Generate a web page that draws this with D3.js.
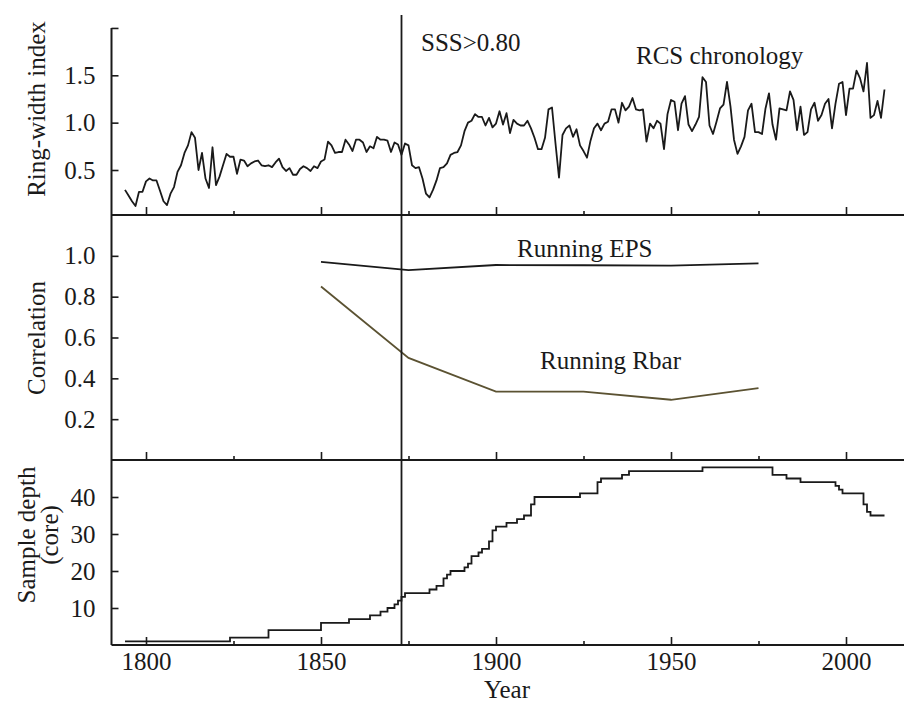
<!DOCTYPE html>
<html>
<head>
<meta charset="utf-8">
<script src="https://cdn.jsdelivr.net/npm/d3@7"></script>
<style>
  html, body { margin: 0; padding: 0; background: #fff; }
  svg text { font-family: "Liberation Serif", "Times New Roman", serif; fill: #1a1a1a; }
</style>
</head>
<body>
<svg id="chart" width="904" height="703" font-family="Liberation Serif, Times New Roman, serif"></svg>
<script>
// ---- data -------------------------------------------------------------
const chronStartYear = 1794;
// RCS ring-width index, one value per year from 1794 to 2011
const chronValues = [
  0.29, 0.23, 0.17, 0.12, 0.27, 0.27,
  0.38, 0.41, 0.39, 0.39, 0.28, 0.17, 0.13, 0.25, 0.32, 0.48,
  0.55, 0.68, 0.76, 0.90, 0.84, 0.50, 0.68, 0.41, 0.31, 0.74,
  0.34, 0.43, 0.55, 0.67, 0.64, 0.64, 0.46, 0.61, 0.60, 0.54,
  0.57, 0.59, 0.60, 0.55, 0.54, 0.55, 0.53, 0.58, 0.62, 0.53,
  0.49, 0.52, 0.45, 0.45, 0.51, 0.54, 0.52, 0.49, 0.54, 0.52,
  0.59, 0.61, 0.80, 0.76, 0.68, 0.69, 0.69, 0.82, 0.77, 0.70,
  0.82, 0.82, 0.79, 0.69, 0.75, 0.73, 0.85, 0.82, 0.82, 0.81,
  0.69, 0.79, 0.77, 0.66, 0.78, 0.76, 0.55, 0.52, 0.53, 0.41,
  0.25, 0.21, 0.29, 0.39, 0.52, 0.53, 0.57, 0.66, 0.68, 0.69,
  0.76, 0.91, 1.00, 1.02, 1.09, 1.06, 1.06, 0.97, 1.05, 0.95,
  0.99, 1.12, 0.98, 1.10, 0.89, 1.03, 0.99, 0.97, 0.97, 1.02,
  0.94, 0.84, 0.72, 0.72, 0.84, 1.14, 1.16, 0.78, 0.42, 0.87,
  0.94, 0.97, 0.85, 0.93, 0.76, 0.70, 0.63, 0.81, 0.94, 0.99,
  0.92, 0.99, 1.01, 1.14, 1.14, 1.00, 1.21, 1.13, 1.17, 1.26,
  1.14, 1.13, 1.14, 0.80, 0.99, 0.94, 1.02, 0.99, 0.72, 1.09,
  1.24, 1.22, 0.92, 1.20, 1.28, 0.98, 0.91, 0.98, 1.06, 1.48,
  1.43, 0.97, 0.88, 1.01, 1.15, 1.19, 1.43, 1.17, 0.82, 0.67,
  0.75, 0.85, 1.13, 1.20, 0.90, 0.90, 0.88, 1.15, 1.31, 0.98,
  0.82, 1.15, 1.14, 1.13, 1.33, 1.24, 0.92, 1.17, 0.87, 0.90,
  1.14, 1.21, 1.02, 1.08, 1.20, 1.25, 0.94, 1.20, 1.41, 1.43,
  1.08, 1.36, 1.36, 1.55, 1.47, 1.33, 1.63, 1.05, 1.08, 1.23,
  1.05, 1.35
];

// Running statistics (25-year windows)
const runYears = [1850, 1875, 1900, 1925, 1950, 1975];
const epsValues = [0.97, 0.93, 0.955, 0.954, 0.952, 0.963];
const rbarValues = [0.85, 0.50, 0.335, 0.335, 0.295, 0.352];

// Sample depth: year at which the core count changes, and the new count
const depthYears = [1794, 1824, 1835, 1850, 1858, 1864, 1867, 1869, 1871, 1872, 1873, 1874,
  1881, 1883, 1885, 1886, 1887, 1891, 1892, 1893, 1895, 1896, 1898, 1899, 1900,
  1903, 1906, 1908, 1910, 1911, 1924, 1929, 1930, 1936, 1938, 1959, 1979, 1983,
  1987, 1997, 1998, 1999, 2005, 2006, 2007, 2011];
const depthCounts = [1, 2, 4, 6, 7, 8, 9, 10, 11, 12, 13, 14,
  15, 16, 18, 19, 20, 21, 22, 24, 25, 26, 28, 31, 32,
  33, 34, 35, 38, 40, 41, 44, 45, 46, 47, 48, 46, 45,
  44, 43, 42, 41, 38, 36, 35, 35];

const sssYear = 1873;
const majorYears = [1800, 1850, 1900, 1950, 2000];
const minorYears = [1825, 1875, 1925, 1975];
const chronTicks = [0.5, 1.0, 1.5, 2.0];
const corrTicks = [0.2, 0.4, 0.6, 0.8, 1.0];
const depthTicks = [10, 20, 30, 40];

// ---- layout -----------------------------------------------------------
const svg = d3.select("#chart");
const FONT = 25;
const SERIF = "Liberation Serif, Times New Roman, serif";
const left = 111.5, right = 904;
const x = d3.scaleLinear().domain([1800, 2000]).range([146, 846]);

const yChron = d3.scaleLinear().domain([0.5, 1.5]).range([170, 75.3]);
const yCorr  = d3.scaleLinear().domain([0, 1.2]).range([460, 215]);
const yDepth = d3.scaleLinear().domain([0, 50]).range([645, 460]);

const panels = [
  { y: yChron, bottom: 215, ticks: chronTicks, fmt: d => d === 2 ? "" : d3.format(".1f")(d) },
  { y: yCorr,  bottom: 460, ticks: corrTicks, fmt: d3.format(".1f") },
  { y: yDepth, bottom: 645, ticks: depthTicks, fmt: d3.format("d") }
];

const ink = "#1a1a1a";

// ---- axes -------------------------------------------------------------
panels.forEach((p, i) => {
  // y axis with inward ticks
  const ga = svg.append("g").attr("transform", `translate(${left},0)`)
    .call(d3.axisLeft(p.y).tickValues(p.ticks).tickFormat(p.fmt).tickSize(-7).tickPadding(16));
  ga.attr("font-family", SERIF);
  ga.select(".domain").remove();
  ga.selectAll(".tick line").attr("stroke", ink).attr("stroke-width", 1.6);
  ga.selectAll(".tick text").attr("font-size", FONT).attr("font-family", SERIF).attr("fill", ink);

  // x ticks pointing up from the panel's base line
  const gMaj = svg.append("g").attr("transform", `translate(0,${p.bottom})`)
    .call(d3.axisBottom(x).tickValues(majorYears).tickSize(-8).tickPadding(7)
      .tickFormat(i === 2 ? d3.format("d") : () => ""));
  gMaj.attr("font-family", SERIF);
  gMaj.select(".domain").remove();
  gMaj.selectAll(".tick line").attr("stroke", ink).attr("stroke-width", 1.6);
  gMaj.selectAll(".tick text").attr("font-size", FONT).attr("font-family", SERIF).attr("fill", ink);

  const gMin = svg.append("g").attr("transform", `translate(0,${p.bottom})`)
    .call(d3.axisBottom(x).tickValues(minorYears).tickSize(-4).tickFormat(() => ""));
  gMin.select(".domain").remove();
  gMin.selectAll(".tick line").attr("stroke", ink).attr("stroke-width", 1.6);

  // panel base line
  svg.append("line")
    .attr("x1", left).attr("x2", right).attr("y1", p.bottom).attr("y2", p.bottom)
    .attr("stroke", ink).attr("stroke-width", 2);
});

// left spine through all panels
svg.append("line")
  .attr("x1", left).attr("x2", left).attr("y1", yChron(2.0)).attr("y2", yDepth(0))
  .attr("stroke", ink).attr("stroke-width", 2);

// ---- series -----------------------------------------------------------
const chron = chronValues.map((v, i) => ({ year: chronStartYear + i, value: v }));
svg.append("path")
  .datum(chron)
  .attr("fill", "none").attr("stroke", ink).attr("stroke-width", 1.8)
  .attr("stroke-linejoin", "round")
  .attr("d", d3.line().x(d => x(d.year)).y(d => yChron(d.value)));

const eps = runYears.map((yr, i) => ({ year: yr, value: epsValues[i] }));
svg.append("path")
  .datum(eps)
  .attr("fill", "none").attr("stroke", ink).attr("stroke-width", 1.8)
  .attr("d", d3.line().x(d => x(d.year)).y(d => yCorr(d.value)));

const rbar = runYears.map((yr, i) => ({ year: yr, value: rbarValues[i] }));
svg.append("path")
  .datum(rbar)
  .attr("fill", "none").attr("stroke", "#5b5232").attr("stroke-width", 1.8)
  .attr("d", d3.line().x(d => x(d.year)).y(d => yCorr(d.value)));

const depth = depthYears.map((yr, i) => ({ year: yr, value: depthCounts[i] }));
svg.append("path")
  .datum(depth)
  .attr("fill", "none").attr("stroke", ink).attr("stroke-width", 1.8)
  .attr("d", d3.line().curve(d3.curveStepAfter).x(d => x(d.year)).y(d => yDepth(d.value)));

// SSS threshold marker
svg.append("line")
  .attr("x1", x(sssYear)).attr("x2", x(sssYear)).attr("y1", 15).attr("y2", yDepth(0))
  .attr("stroke", ink).attr("stroke-width", 1.8);

// ---- labels -----------------------------------------------------------
const label = (txt, px, py, anchor = "start") =>
  svg.append("text").attr("x", px).attr("y", py).attr("text-anchor", anchor)
    .attr("font-family", SERIF).attr("font-size", FONT).text(txt);

label("SSS>0.80", 421, 51);
label("RCS chronology", 636, 64);
label("Running EPS", 517, 257);
label("Running Rbar", 540, 369);
label("Year", 507, 698, "middle");

const vlabel = (txt, px, py) =>
  svg.append("text").attr("transform", `translate(${px},${py}) rotate(-90)`)
    .attr("text-anchor", "middle").attr("font-family", SERIF).attr("font-size", FONT).text(txt);

vlabel("Ring-width index", 45, 109);
vlabel("Correlation", 45, 338);
vlabel("Sample depth", 35, 535);
vlabel("(core)", 58, 535);
</script>
</body>
</html>
